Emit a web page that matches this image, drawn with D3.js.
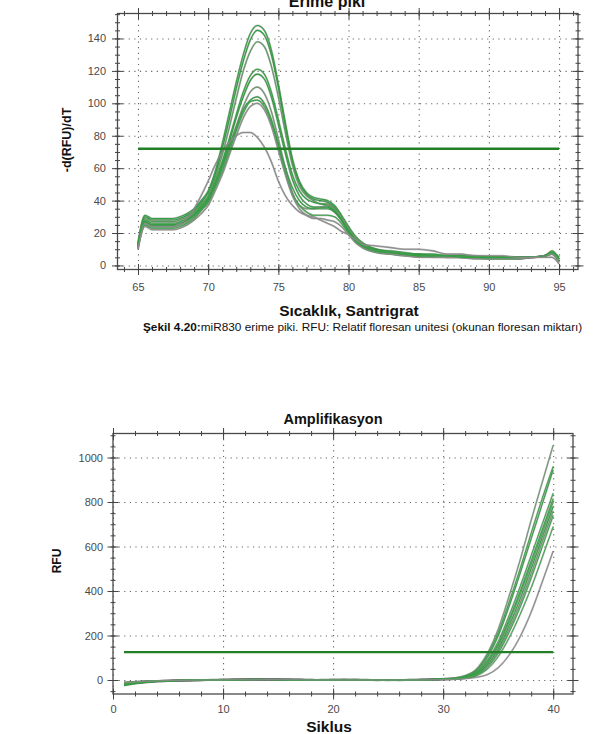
<!DOCTYPE html>
<html>
<head>
<meta charset="utf-8">
<script src="https://cdn.jsdelivr.net/npm/d3@7"></script>
<style>
  body { margin: 0; background: #fff; }
  svg { display: block; font-family: "Liberation Sans", Arial, sans-serif; }
</style>
</head>
<body>
<div id="chart"></div>
<script>
// ---- melt curve data (Erime piki) ----
var meltTemp = [65, 65.5, 66, 67, 67.5, 68, 68.5, 69, 69.5, 70, 70.5, 71, 71.5, 72, 72.5, 73, 73.5, 74, 74.5, 75,
  75.5, 76, 76.5, 77, 77.5, 78, 78.5, 79, 79.5, 80, 80.5, 81, 82, 83, 84, 85, 86, 87, 88, 89, 90, 91, 92, 93, 94, 94.5, 95];

var melt1 = [14, 31, 29, 29, 29, 30, 32, 35, 40, 46, 58, 75, 94, 113, 130, 143, 148, 145, 133, 112, 88, 66, 52, 45, 42, 41, 40, 37, 31, 24, 18, 14, 10, 9, 8, 7, 7, 6, 6, 6, 5, 5, 5, 5, 6, 8, 4];
var melt2 = [13, 30, 28, 28, 28, 29, 31, 34, 39, 45, 56, 72, 90, 109, 126, 139, 145, 142, 130, 110, 86, 64, 51, 44, 41, 40, 39, 36, 30, 23, 17, 13, 10, 8, 7, 7, 6, 6, 6, 5, 5, 5, 5, 5, 6, 7, 3];
var melt3 = [12, 29, 27, 27, 27, 28, 30, 33, 38, 43, 54, 68, 85, 103, 120, 132, 138, 135, 123, 104, 82, 62, 49, 43, 40, 38, 38, 35, 29, 22, 16, 12, 9, 8, 7, 6, 6, 6, 5, 5, 5, 5, 5, 5, 6, 7, 2];
var melt4 = [11, 28, 26, 26, 26, 27, 29, 32, 37, 42, 52, 64, 78, 93, 107, 117, 121, 118, 107, 90, 72, 56, 46, 41, 39, 38, 37, 34, 28, 22, 16, 12, 9, 8, 7, 6, 6, 6, 5, 5, 5, 5, 5, 5, 6, 8, 4];
var melt5 = [12, 27, 25, 25, 25, 26, 28, 31, 35, 40, 50, 62, 76, 91, 104, 114, 118, 115, 104, 87, 69, 53, 43, 38, 36, 36, 36, 33, 28, 21, 15, 12, 9, 8, 7, 6, 6, 5, 5, 5, 5, 5, 5, 5, 6, 8, 5];
var melt6 = [10, 26, 24, 24, 24, 25, 27, 30, 34, 39, 49, 60, 73, 86, 98, 107, 110, 106, 95, 78, 60, 45, 37, 35, 35, 36, 37, 35, 30, 23, 17, 13, 9, 8, 7, 6, 6, 5, 5, 5, 5, 5, 4, 5, 6, 7, 3];
var melt7 = [12, 25, 23, 23, 23, 24, 26, 29, 34, 39, 48, 58, 70, 83, 94, 101, 102, 98, 88, 73, 57, 44, 37, 33, 31, 31, 31, 30, 26, 20, 15, 11, 8, 7, 6, 6, 5, 5, 5, 5, 4, 4, 4, 5, 6, 8, 5];
var melt8 = [11, 24, 22, 22, 22, 23, 25, 28, 32, 37, 46, 56, 68, 80, 91, 98, 100, 96, 86, 71, 56, 43, 35, 31, 29, 29, 28, 27, 24, 19, 14, 11, 8, 7, 6, 5, 5, 5, 5, 4, 4, 4, 4, 5, 6, 7, 2];
var melt9 = [13, 27, 25, 25, 25, 26, 28, 31, 36, 41, 50, 61, 73, 85, 96, 102, 104, 100, 90, 75, 60, 48, 40, 36, 35, 35, 35, 33, 28, 21, 15, 12, 9, 8, 7, 6, 6, 6, 5, 5, 5, 5, 5, 5, 6, 9, 4];
var melt10 = [10, 26, 24, 24, 24, 26, 29, 35, 43, 52, 62, 70, 76, 80, 82, 82, 79, 73, 64, 52, 43, 37, 33, 31, 30, 28, 26, 24, 21, 19, 16, 13, 12, 11, 10, 10, 9, 7, 7, 6, 6, 6, 5, 5, 5, 5, 1];

var meltSeries = [melt1, melt2, melt3, melt4, melt5, melt6, melt7, melt8, melt9, melt10];
var meltColors = ["#34a043", "#2e9a3c", "#5f9a62", "#33a242", "#2f9d3d", "#6f9470", "#39a447", "#858f85", "#32a040", "#8c8c8c"];
var meltThreshold = 72;
var meltXTicks = [65, 70, 75, 80, 85, 90, 95];
var meltYTicks = [0, 20, 40, 60, 80, 100, 120, 140];

// ---- amplification data (Amplifikasyon) ----
var ampCycle = [1, 2, 3, 4, 5, 6, 7, 8, 9, 10, 11, 12, 13, 14, 15, 16, 17, 18, 19, 20,
  21, 22, 23, 24, 25, 26, 27, 28, 29, 30, 31, 32, 33, 34, 35, 36, 37, 38, 39, 40];

var amp1 = [-20, -14, -9, -6, -4, -3, -2, -1, 0, 1, 1, 2, 2, 3, 2, 1, 1, 0, 0, 1, 1, 0, 0, -1, 0, 0, 0, 1, 2, 5, 9, 20, 48, 118, 228, 378, 540, 718, 888, 1055];
var amp2 = [-16, -12, -8, -5, -4, -2, -1, 0, 0, 1, 2, 2, 3, 2, 2, 1, 1, 0, 1, 1, 0, 0, 0, 0, -1, 0, 1, 1, 2, 4, 8, 18, 44, 110, 212, 350, 500, 660, 815, 960];
var amp3 = [-22, -15, -10, -7, -5, -3, -2, -1, 0, 0, 1, 1, 2, 2, 3, 2, 1, 1, 0, 0, 1, 1, 0, 0, 0, -1, 0, 1, 3, 6, 7, 16, 40, 100, 198, 332, 480, 635, 790, 945];
var amp4 = [-12, -9, -6, -4, -3, -2, -1, 0, 1, 1, 2, 3, 3, 2, 1, 1, 0, 0, 0, 1, 1, 1, 0, 0, 0, 0, 0, 1, 2, 4, 6, 14, 35, 88, 172, 290, 420, 560, 700, 840];
var amp5 = [-18, -13, -9, -6, -4, -3, -1, 0, 0, 1, 1, 2, 3, 3, 2, 2, 1, 0, 0, 0, 1, 1, 1, 0, 0, 0, 0, 1, 2, 3, 6, 13, 32, 80, 160, 272, 398, 535, 675, 815];
var amp6 = [-14, -10, -7, -5, -3, -2, -1, -1, 0, 0, 1, 1, 2, 2, 2, 1, 1, 1, 0, 0, 0, 1, 1, 0, 0, -1, 0, 0, 1, 3, 5, 12, 30, 76, 152, 262, 385, 520, 660, 800];
var amp7 = [-25, -17, -11, -7, -5, -3, -2, -1, 0, 0, 1, 2, 2, 2, 2, 1, 1, 0, 0, 1, 1, 0, 0, 0, 0, 0, 0, 1, 2, 4, 5, 11, 27, 68, 140, 245, 365, 500, 640, 780];
var amp8 = [-10, -8, -5, -4, -2, -1, 0, 0, 1, 1, 2, 2, 2, 3, 2, 1, 0, 0, 1, 1, 1, 0, 0, -1, 0, 0, 1, 1, 2, 3, 4, 10, 24, 62, 130, 230, 345, 478, 620, 760];
var amp9 = [-19, -13, -8, -5, -4, -2, -1, 0, 0, 1, 1, 2, 2, 2, 1, 1, 1, 0, 0, 0, 1, 1, 0, 0, 0, 0, 1, 1, 1, 3, 4, 9, 22, 56, 120, 215, 328, 458, 598, 740];
var amp10 = [-15, -11, -7, -5, -3, -2, -1, 0, 0, 1, 1, 1, 2, 2, 2, 2, 1, 1, 0, 0, 0, 1, 0, 0, -1, 0, 0, 1, 2, 3, 4, 8, 19, 48, 105, 190, 295, 415, 550, 690];
var amp11 = [-13, -9, -6, -4, -3, -2, -1, 0, 0, 0, 1, 1, 1, 2, 2, 1, 1, 0, 0, 0, 0, 0, 0, 0, 0, 0, 0, 0, 1, 2, 3, 6, 12, 24, 55, 112, 195, 305, 440, 580];

var ampSeries = [amp1, amp2, amp3, amp4, amp5, amp6, amp7, amp8, amp9, amp10, amp11];
var ampColors = ["#6f9670", "#35a244", "#2f9d3d", "#3aa548", "#33a041", "#40a84d", "#2e9a3c", "#5e9d61", "#36a345", "#3ca649", "#8a8a8a"];
var ampThreshold = 125;
var ampXTicks = [0, 10, 20, 30, 40];
var ampYTicks = [0, 200, 400, 600, 800, 1000];

// ---- chart ----
var svg = d3.select("#chart").append("svg")
  .attr("width", 596)
  .attr("height", 734);

// ticks crossing a frame edge (half out, half in)
function crossTicks(g, scale, vals, horizontal, pos, len) {
  var axes = horizontal ? [d3.axisBottom(scale), d3.axisTop(scale)] : [d3.axisLeft(scale), d3.axisRight(scale)];
  axes.forEach(function(ax) {
    var a = g.append("g")
      .attr("transform", horizontal ? `translate(0,${pos})` : `translate(${pos},0)`)
      .call(ax.tickValues(vals).tickSize(len).tickFormat(""));
    a.select(".domain").remove();
    a.selectAll("line").attr("stroke", "#444").attr("stroke-width", 1);
  });
}

function panel(o) {
  var g = svg.append("g");
  var x = d3.scaleLinear().domain(o.xDomain).range([o.left, o.right]);
  var y = d3.scaleLinear().domain(o.yDomain).range([o.bottom, o.top]);
  var w = o.right - o.left, h = o.bottom - o.top;

  // dotted grid
  var gx = g.append("g").attr("transform", `translate(0,${o.top})`)
    .call(d3.axisBottom(x).tickValues(o.xTicks).tickSize(h).tickFormat(""));
  gx.select(".domain").remove();
  gx.selectAll("line").attr("stroke", "#666").attr("stroke-width", 1.1).attr("stroke-dasharray", "1.2,4.4");
  var gy = g.append("g").attr("transform", `translate(${o.left},0)`)
    .call(d3.axisRight(y).tickValues(o.yTicks).tickSize(w).tickFormat(""));
  gy.select(".domain").remove();
  gy.selectAll("line").attr("stroke", "#666").attr("stroke-width", 1.1).attr("stroke-dasharray", "1.2,4.4");

  // curves
  var line = d3.line()
    .x(function(d, i) { return x(o.xs[i]); })
    .y(function(d) { return y(d); })
    .curve(d3.curveMonotoneX);
  var lines = g.append("g");
  o.series.forEach(function(s, k) {
    lines.append("path").datum(s)
      .attr("fill", "none").attr("stroke", "#6d6d6d").attr("stroke-opacity", 0.45)
      .attr("stroke-width", o.lw + 0.9).attr("d", line);
  });
  o.series.forEach(function(s, k) {
    lines.append("path").datum(s)
      .attr("fill", "none").attr("stroke", o.colors[k])
      .attr("stroke-width", o.lw).attr("d", line);
  });

  // threshold
  g.append("line")
    .attr("x1", x(o.thrFrom)).attr("x2", x(o.thrTo))
    .attr("y1", y(o.thr)).attr("y2", y(o.thr))
    .attr("stroke", "#237f27").attr("stroke-width", o.thrW);

  // frame
  g.append("rect")
    .attr("x", o.left).attr("y", o.top).attr("width", w).attr("height", h)
    .attr("fill", "none").attr("stroke", "#4a4a4a").attr("stroke-width", 1.3);

  // ticks on all four edges
  [o.top, o.bottom].forEach(function(p) {
    crossTicks(g, x, o.xMinor, true, p, 2.5);
    crossTicks(g, x, o.xTicks, true, p, 5.5);
  });
  [o.left, o.right].forEach(function(p) {
    crossTicks(g, y, o.yMinor, false, p, 2.5);
    crossTicks(g, y, o.yTicks, false, p, 5.5);
  });

  // tick labels
  var xl = g.append("g").attr("transform", `translate(0,${o.bottom})`)
    .call(d3.axisBottom(x).tickValues(o.xTicks).tickSize(5.5).tickPadding(o.xPad).tickFormat(d3.format("d")));
  xl.select(".domain").remove();
  xl.selectAll("line").remove();
  xl.selectAll("text").attr("fill", "#4a4a4a").attr("font-size", "11px")
    .attr("font-family", "'Liberation Sans', Arial, sans-serif");

  var yl = g.append("g").attr("transform", `translate(${o.left},0)`)
    .call(d3.axisLeft(y).tickValues(o.yTicks).tickSize(5.5).tickPadding(o.yPad).tickFormat(d3.format("d")));
  yl.select(".domain").remove();
  yl.selectAll("line").remove();
  yl.selectAll("text").attr("fill", "#4a4a4a").attr("font-size", "11px")
    .attr("font-family", "'Liberation Sans', Arial, sans-serif");

  // titles
  g.append("text").attr("x", o.titleX).attr("y", o.titleY)
    .attr("text-anchor", "middle").attr("font-weight", "bold").attr("font-size", o.titleSize + "px")
    .attr("fill", "#111").text(o.title);
  g.append("text").attr("x", o.xLabelX).attr("y", o.xLabelY)
    .attr("text-anchor", "middle").attr("font-weight", "bold").attr("font-size", o.xLabelSize + "px")
    .attr("fill", "#111").text(o.xLabel);
  g.append("text")
    .attr("transform", `translate(${o.yLabelX},${o.yLabelY}) rotate(-90)`)
    .attr("text-anchor", "middle").attr("font-weight", "bold").attr("font-size", o.yLabelSize + "px")
    .attr("fill", "#111").text(o.yLabel);
}

// top panel: melt peak
panel({
  left: 117.5, right: 578, top: 13.5, bottom: 269.5,
  xDomain: [63.54, 96.35], yDomain: [-2.5, 155.4],
  xs: meltTemp, series: meltSeries, colors: meltColors, lw: 1.1,
  thr: meltThreshold, thrFrom: 65, thrTo: 95, thrW: 2.6,
  xTicks: meltXTicks, yTicks: meltYTicks,
  xMinor: d3.range(64, 97, 1), yMinor: d3.range(0, 156, 5),
  xPad: 8, yPad: 6,
  title: "Erime piki", titleX: 327, titleY: 7, titleSize: 16,
  xLabel: "Sıcaklık, Santrigrat", xLabelX: 349, xLabelY: 316, xLabelSize: 15.5,
  yLabel: "-d(RFU)/dT", yLabelX: 71, yLabelY: 140, yLabelSize: 12.5
});

// bottom panel: amplification
panel({
  left: 113, right: 573, top: 433.5, bottom: 694,
  xDomain: [0, 41.8], yDomain: [-63, 1108],
  xs: ampCycle, series: ampSeries, colors: ampColors, lw: 1,
  thr: ampThreshold, thrFrom: 1, thrTo: 40, thrW: 2.2,
  xTicks: ampXTicks, yTicks: ampYTicks,
  xMinor: d3.range(0, 42, 2), yMinor: d3.range(-50, 1101, 50),
  xPad: 6, yPad: 4.5,
  title: "Amplifikasyon", titleX: 333, titleY: 424, titleSize: 14.5,
  xLabel: "Siklus", xLabelX: 329, xLabelY: 732, xLabelSize: 15.5,
  yLabel: "RFU", yLabelX: 61, yLabelY: 561, yLabelSize: 12
});

// caption
var cap = svg.append("text").attr("x", 143).attr("y", 331)
  .attr("font-size", "11.8px").attr("fill", "#111");
cap.append("tspan").attr("font-weight", "bold").text("Şekil 4.20:");
cap.append("tspan").text("miR830 erime piki. RFU: Relatif floresan unitesi (okunan floresan miktarı)");
</script>
</body>
</html>
